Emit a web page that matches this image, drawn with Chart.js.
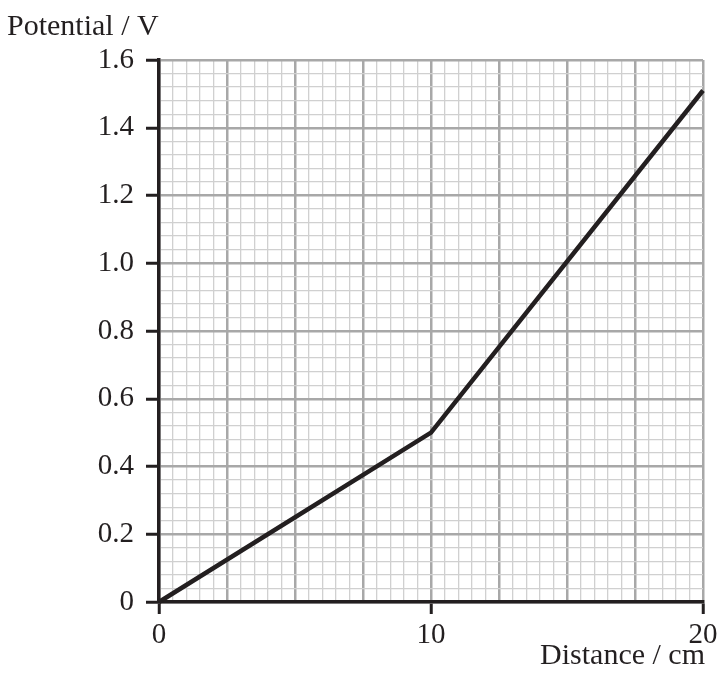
<!DOCTYPE html>
<html>
<head>
<meta charset="utf-8">
<script src="https://cdn.jsdelivr.net/npm/chart.js@4.4.1/dist/chart.umd.min.js"></script>
<style>
  html, body { margin: 0; padding: 0; background: #ffffff; }
  #wrap { width: 723px; height: 686px; position: relative; }
</style>
</head>
<body>
<div id="wrap"><canvas id="c" width="723" height="686"></canvas></div>
<script>
// ---- Data ----
const distance = [0, 10, 20];          // cm
const potential = [0, 0.5, 1.51];      // V
const xTickLabels = [0, 10, 20];
const yTickLabels = [0, 0.2, 0.4, 0.6, 0.8, 1.0, 1.2, 1.4, 1.6];
const xTitle = 'Distance / cm';
const yTitle = 'Potential / V';

const INK = '#231f20';
const MAJOR = '#a8a8a8';
const MINOR = '#d0d0d0';
const FONT = '"Liberation Serif", "Times New Roman", serif';

function isLabelX(v) { return xTickLabels.some(t => Math.abs(t - v) < 1e-6); }
function isLabelY(v) { return yTickLabels.some(t => Math.abs(t - v) < 1e-6); }
function isMajorX(v) { return Math.abs(v / 2.5 - Math.round(v / 2.5)) < 1e-6; }
function isMajorY(v) { return Math.abs(v / 0.2 - Math.round(v / 0.2)) < 1e-6; }

const titles = {
  id: 'titles',
  afterDraw(chart) {
    const ctx = chart.ctx;
    ctx.save();
    ctx.fillStyle = INK;
    ctx.font = '30px ' + FONT;
    ctx.textBaseline = 'alphabetic';
    ctx.textAlign = 'left';
    ctx.fillText(yTitle, 7, 35);
    ctx.textAlign = 'right';
    ctx.fillText(xTitle, chart.chartArea.right + 2, 664);
    ctx.restore();
  }
};

new Chart(document.getElementById('c'), {
  type: 'line',
  data: {
    datasets: [{
      data: distance.map((d, i) => ({ x: d, y: potential[i] })),
      borderColor: INK,
      borderWidth: 4.5,
      pointRadius: 0,
      tension: 0,
      clip: false
    }]
  },
  options: {
    responsive: false,
    animation: false,
    devicePixelRatio: 1,
    layout: { padding: { top: 60, right: 20, left: 0, bottom: 0 } },
    plugins: { legend: { display: false }, tooltip: { enabled: false } },
    scales: {
      x: {
        type: 'linear',
        min: 0, max: 20,
        afterFit(s) { s.height = 84; },
        ticks: {
          stepSize: 0.5,
          autoSkip: false,
          maxRotation: 0,
          padding: 4,
          color: INK,
          font: { family: FONT, size: 29 },
          callback(v) { return isLabelX(v) ? String(Math.round(v)) : ''; }
        },
        grid: {
          color: ctx => isMajorX(ctx.tick.value) ? MAJOR : MINOR,
          lineWidth: ctx => isMajorX(ctx.tick.value) ? 2.5 : 1.3,
          drawTicks: true,
          tickLength: 12,
          tickColor: ctx => isLabelX(ctx.tick.value) ? INK : 'rgba(0,0,0,0)',
          tickWidth: ctx => isLabelX(ctx.tick.value) ? 3 : 0
        },
        border: { color: INK, width: 3.5 }
      },
      y: {
        type: 'linear',
        min: 0, max: 1.6,
        afterFit(s) { s.width = 159; },
        ticks: {
          stepSize: 0.04,
          autoSkip: false,
          padding: 12,
          color: INK,
          font: { family: FONT, size: 29 },
          callback(v) {
            if (!isLabelY(v)) return '';
            return Math.abs(v) < 1e-9 ? '0' : v.toFixed(1);
          }
        },
        grid: {
          color: ctx => isMajorY(ctx.tick.value) ? MAJOR : MINOR,
          lineWidth: ctx => isMajorY(ctx.tick.value) ? 2.5 : 1.3,
          drawTicks: true,
          tickLength: 13,
          tickColor: ctx => isLabelY(ctx.tick.value) ? INK : 'rgba(0,0,0,0)',
          tickWidth: ctx => isLabelY(ctx.tick.value) ? 3 : 0
        },
        border: { color: INK, width: 3.5 }
      }
    }
  },
  plugins: [titles]
});
</script>
</body>
</html>
